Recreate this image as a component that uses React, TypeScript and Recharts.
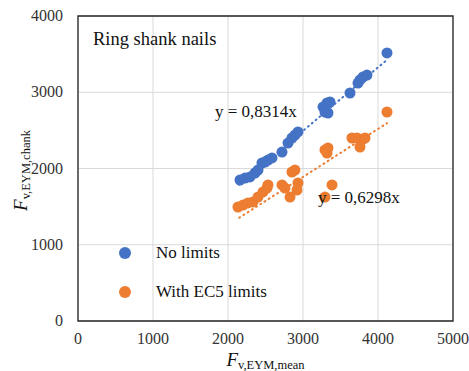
import {
    ReferenceArea,
    ReferenceDot,
    Scatter,
    ScatterChart,
    CartesianGrid,
    XAxis,
    YAxis
} from "recharts";

// values
const noLimitsX = [2160, 2227, 2293, 2360, 2400, 2453, 2493, 2533, 2587, 2720, 2800, 2853, 2893, 2933, 3267, 3320, 3360, 3293, 3333, 3627, 3733, 3760, 3800, 3853, 4120];
const noLimitsY = [1849, 1875, 1889, 1941, 1980, 2072, 2085, 2111, 2138, 2216, 2334, 2400, 2439, 2479, 2807, 2859, 2872, 2741, 2728, 2990, 3121, 3161, 3200, 3226, 3515];
const ec5X = [2133, 2200, 2267, 2333, 2400, 2467, 2520, 2533, 2720, 2760, 2827, 2853, 2893, 2920, 2933, 3293, 3387, 3293, 3333, 3320, 3653, 3720, 3760, 3787, 3827, 4120];
const ec5Y = [1495, 1521, 1548, 1561, 1626, 1692, 1744, 1784, 1784, 1744, 1626, 1954, 1980, 1718, 1810, 1626, 1784, 2243, 2269, 2203, 2400, 2400, 2282, 2374, 2400, 2741];

const slopeNoLimits = 0.8314;
const slopeEc5 = 0.6298;
const trendRange = [2150, 4120];

const xTicks = [0, 1000, 2000, 3000, 4000, 5000];
const yTicks = [0, 1000, 2000, 3000, 4000];

const BLUE = "#4472C4";
const ORANGE = "#ED7D31";
const FONT = "Liberation Serif";

const zip = (xs: number[], ys: number[]) => xs.map((x, i) => ({ x, y: ys[i] }));
const trend = (k: number) => trendRange.map((x) => ({ x, y: k * x }));

const legendItems = [
    { label: "No limits", color: BLUE },
    { label: "With EC5 limits", color: ORANGE },
];

const Dot = (color: string) => (p: any) => <circle cx={p.cx} cy={p.cy} r={5.5} fill={color} />;

const XTick = ({ x, y, payload }: any) => (
    <text x={x} y={y} dy={12} textAnchor="middle" style={{ fontFamily: FONT }} fontSize={16} fill="#333">
        {payload.value}
    </text>
);

const YTick = ({ x, y, payload }: any) => (
    <text x={x} y={y} dy={5} textAnchor="end" style={{ fontFamily: FONT }} fontSize={16} fill="#333">
        {payload.value}
    </text>
);

const XLabel = ({ viewBox }: any) => {
    const cx = viewBox.x + viewBox.width / 2;
    return (
        <text x={cx} y={366} textAnchor="middle" style={{ fontFamily: FONT }} fill="#111">
            <tspan fontStyle="italic" fontSize={19}>F</tspan>
            <tspan fontSize={12.5} dy={3}>v,EYM,mean</tspan>
        </text>
    );
};

const YLabel = ({ viewBox }: any) => {
    const cy = viewBox.y + viewBox.height / 2;
    return (
        <text x={0} y={0} transform={`translate(27, ${cy + 2}) rotate(-90)`} textAnchor="middle" style={{ fontFamily: FONT }} fill="#111">
            <tspan fontStyle="italic" fontSize={19}>F</tspan>
            <tspan fontSize={12.5} dy={3}>v,EYM,chank</tspan>
        </text>
    );
};

const textLabel = (value: string, size: number) => (p: any) => (
    <text x={p.viewBox.x} y={p.viewBox.y} dy={6} textAnchor="start" style={{ fontFamily: FONT }} fontSize={size} fill="#111">
        {value}
    </text>
);

export default function App() {
    return (
        <div style={{ position: "absolute", left: 0, top: 0, width: 469, height: 371, background: "#fff" }}>
            <ScatterChart width={469} height={371} margin={{ top: 16, right: 16, left: 0, bottom: 0 }} style={{ fontFamily: FONT }}>
                <CartesianGrid stroke="#d9d9d9" strokeWidth={1} />
                <XAxis
                    type="number"
                    dataKey="x"
                    domain={[0, 5000]}
                    ticks={xTicks}
                    height={50}
                    axisLine={false}
                    tickLine={false}
                    tickSize={0}
                    tickMargin={11}
                    tick={<XTick />}
                    label={<XLabel />}
                />
                <YAxis
                    type="number"
                    dataKey="y"
                    domain={[0, 4000]}
                    ticks={yTicks}
                    width={78}
                    axisLine={false}
                    tickLine={false}
                    tickSize={0}
                    tickMargin={15}
                    tick={<YTick />}
                    label={<YLabel />}
                />
                <ReferenceArea x1={0} x2={5000} y1={0} y2={4000} fill="none" stroke="#262626" strokeWidth={1.3} />
                <Scatter data={trend(slopeNoLimits)} line={{ stroke: BLUE, strokeWidth: 2, strokeDasharray: "1 4", strokeLinecap: "round" }} shape={() => <g />} legendType="none" isAnimationActive={false} />
                <Scatter data={trend(slopeEc5)} line={{ stroke: ORANGE, strokeWidth: 2, strokeDasharray: "1 4", strokeLinecap: "round" }} shape={() => <g />} legendType="none" isAnimationActive={false} />
                <Scatter name="No limits" data={zip(noLimitsX, noLimitsY)} shape={Dot(BLUE)} isAnimationActive={false} />
                <Scatter name="With EC5 limits" data={zip(ec5X, ec5Y)} shape={Dot(ORANGE)} isAnimationActive={false} />
                <ReferenceDot x={200} y={3700} r={0} label={textLabel("Ring shank nails", 18.5)} />
                <ReferenceDot x={1827} y={2754} r={0} label={textLabel("y = 0,8314x", 17)} />
                <ReferenceDot x={3200} y={1626} r={0} label={textLabel("y = 0,6298x", 17)} />
            </ScatterChart>
            <div style={{ position: "absolute", left: 119, top: 233, fontFamily: FONT, fontSize: 17, color: "#111" }}>
                {legendItems.map((it) => (
                    <div key={it.label} style={{ display: "flex", alignItems: "center", height: 39 }}>
                        <span style={{ width: 12, height: 12, borderRadius: "50%", background: it.color, display: "inline-block", marginRight: 25 }} />
                        <span>{it.label}</span>
                    </div>
                ))}
            </div>
        </div>
    );
}
